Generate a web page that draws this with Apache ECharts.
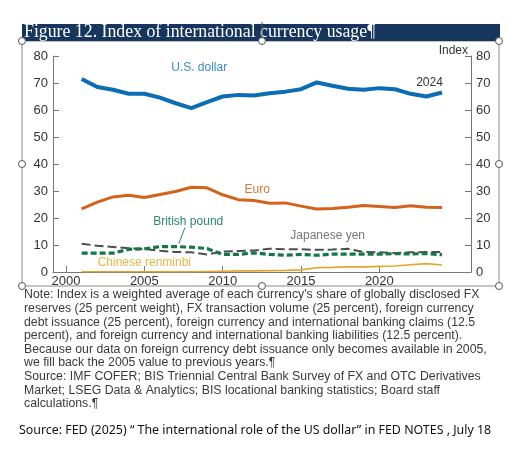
<!DOCTYPE html>
<html>
<head>
<meta charset="utf-8">
<script src="https://cdn.jsdelivr.net/npm/echarts@6/dist/echarts.min.js"></script>
<style>
  html, body { margin: 0; padding: 0; background: #fff; }
  #main { width: 529px; height: 459px; }
</style>
</head>
<body>
<div id="main"></div>
<script>
// yearly index values
var years = [2001, 2002, 2003, 2004, 2005, 2006, 2007, 2008, 2009, 2010, 2011, 2012,
             2013, 2014, 2015, 2016, 2017, 2018, 2019, 2020, 2021, 2022, 2023, 2024];
var usDollar = [71.5, 68.5, 67.5, 66.0, 66.0, 64.6, 62.5, 60.7, 62.9, 65.0, 65.6, 65.4,
                66.2, 66.8, 67.7, 70.2, 69.0, 67.9, 67.5, 68.1, 67.7, 66.0, 65.0, 66.5];
var euro = [23.4, 25.9, 27.8, 28.4, 27.6, 28.7, 29.8, 31.4, 31.2, 28.6, 26.8, 26.5,
            25.5, 25.6, 24.4, 23.3, 23.5, 24.0, 24.6, 24.3, 23.9, 24.5, 24.0, 23.9];
var yen = [10.5, 9.7, 9.3, 8.8, 8.5, 7.9, 7.4, 7.3, 6.5, 7.6, 7.8, 8.0,
           8.6, 8.4, 8.4, 8.2, 8.3, 8.6, 7.4, 7.3, 7.0, 7.3, 7.4, 7.4];
var pound = [7.0, 7.0, 7.0, 8.4, 8.6, 9.4, 9.4, 9.2, 8.7, 6.5, 6.5, 7.1,
             6.5, 6.2, 6.5, 6.2, 6.6, 6.6, 6.6, 6.6, 6.8, 6.7, 6.8, 6.4];
var renminbi = [0.1, 0.1, 0.1, 0.1, 0.1, 0.1, 0.1, 0.1, 0.2, 0.3, 0.4, 0.4,
                0.5, 0.6, 0.8, 1.6, 1.7, 1.9, 1.9, 2.1, 2.2, 2.7, 3.1, 2.6];
var yearTicks = [2000, 2005, 2010, 2015, 2020];

var noteLines = [
  "Note: Index is a weighted average of each currency's share of globally disclosed FX",
  "reserves (25 percent weight), FX transaction volume (25 percent), foreign currency",
  "debt issuance (25 percent), foreign currency and international banking claims (12.5",
  "percent), and foreign currency and international banking liabilities (12.5 percent).",
  "Because our data on foreign currency debt issuance only becomes available in 2005,",
  "we fill back the 2005 value to previous years.\u00b6",
  "Source: IMF COFER; BIS Triennial Central Bank Survey of FX and OTC Derivatives",
  "Market; LSEG Data & Analytics; BIS locational banking statistics; Board staff",
  "calculations.\u00b6"
];

function pairs(vals) {
  return years.map(function (y, i) { return [y, vals[i]]; });
}

var myChart = echarts.init(document.getElementById('main'));

var axisFont = { fontFamily: 'Liberation Sans', fontSize: 13, color: '#333' };

// frame of the selected picture with its handles
var frame = [
  { type: 'rect', shape: { x: 22, y: 41, width: 477, height: 245 },
    style: { fill: 'none', stroke: '#8a8a8a', lineWidth: 1 }, z: 1 },
  { type: 'rect', shape: { x: 22, y: 24, width: 478, height: 17 },
    style: { fill: '#17365d' }, z: 2 },
  { type: 'text', left: 24, top: 23,
    style: { text: 'Figure 12. Index of international currency usage\u00b6',
             fill: '#fff', font: '17.8px "Liberation Serif"' }, z: 3 }
];
[[22, 41], [262, 41], [499, 41], [22, 164], [499, 164], [22, 286], [262, 286], [499, 286]]
  .forEach(function (p) {
    frame.push({ type: 'circle', shape: { cx: p[0], cy: p[1], r: 3.5 },
      style: { fill: '#fff', stroke: '#555', lineWidth: 1 }, z: 4 });
  });
frame.push({ type: 'line', shape: { x1: 262, y1: 22, x2: 262, y2: 38 },
  style: { stroke: '#555', lineWidth: 1 }, z: 4 });

noteLines.forEach(function (t, i) {
  frame.push({ type: 'text', left: 24, top: 289 + i * 13.6,
    style: { text: t, fill: '#3a3a3a', font: '12.3px "Liberation Sans"' }, z: 3 });
});
frame.push({ type: 'text', left: 19, top: 424,
  style: { text: 'Source: FED (2025) \u201c The international role of the US dollar\u201d in FED NOTES , July 18',
           fill: '#111', font: '12.4px "Noto Sans"' }, z: 3 });

var option = {
  animation: false,
  backgroundColor: '#fff',
  grid: { left: 53, right: 58, top: 56, bottom: 187 },
  xAxis: {
    type: 'value', min: 1999.17, max: 2025.85,
    axisLine: { show: true, lineStyle: { color: '#777', width: 1 } },
    axisTick: { show: true, inside: true, length: 6, customValues: yearTicks,
                lineStyle: { color: '#777' } },
    axisLabel: Object.assign({ customValues: yearTicks, margin: 3,
                               formatter: function (v) { return String(v); } }, axisFont),
    splitLine: { show: false }
  },
  yAxis: [
    { type: 'value', min: 0, max: 80, interval: 10, position: 'left',
      axisLine: { show: true, lineStyle: { color: '#777' } },
      axisTick: { show: true, inside: true, length: 6, lineStyle: { color: '#777' } },
      axisLabel: Object.assign({ margin: 5 }, axisFont),
      splitLine: { show: false } },
    { type: 'value', min: 0, max: 80, interval: 10, position: 'right',
      name: 'Index', nameGap: -1,
      nameTextStyle: { fontFamily: 'Liberation Sans', fontSize: 12, color: '#333',
                       align: 'right', padding: [0, 3, 0, 0] },
      axisLine: { show: true, lineStyle: { color: '#777' } },
      axisTick: { show: true, inside: true, length: 6, lineStyle: { color: '#777' } },
      axisLabel: Object.assign({ margin: 5 }, axisFont),
      splitLine: { show: false } }
  ],
  series: [
    { name: 'Chinese renminbi', type: 'line', data: pairs(renminbi), showSymbol: false,
      lineStyle: { color: '#e6a52a', width: 1.6 }, z: 2 },
    { name: 'Japanese yen', type: 'line', data: pairs(yen), showSymbol: false,
      lineStyle: { color: '#4d4d4d', width: 2, type: [9, 4] }, z: 3 },
    { name: 'British pound', type: 'line', data: pairs(pound), showSymbol: false,
      lineStyle: { color: '#14774b', width: 3.2, type: [6, 3] }, z: 4 },
    { name: 'Euro', type: 'line', data: pairs(euro), showSymbol: false,
      lineStyle: { color: '#d4621a', width: 3 }, z: 5 },
    { name: 'U.S. dollar', type: 'line', data: pairs(usDollar), showSymbol: false,
      lineStyle: { color: '#0b6db3', width: 4 }, z: 6 }
  ],
  graphic: frame
};
myChart.setOption(option);

// series labels placed in data coordinates
var labels = [
  { text: 'U.S. dollar', at: [2008.5, 75.5], color: '#3b8dc4' },
  { text: '2024', at: [2023.2, 70], color: '#333' },
  { text: 'Euro', at: [2012.2, 30.5], color: '#d9772e' },
  { text: 'British pound', at: [2007.8, 18.6], color: '#2a8a68' },
  { text: 'Japanese yen', at: [2016.7, 13.6], color: '#777' },
  { text: 'Chinese renminbi', at: [2005, 3.3], color: '#e9b545' }
];
var extra = labels.map(function (l) {
  var p = myChart.convertToPixel({ gridIndex: 0 }, l.at);
  return { type: 'text', x: p[0], y: p[1],
    style: { text: l.text, fill: l.color, font: '12px "Liberation Sans"',
             align: 'center', verticalAlign: 'middle' }, z: 10 };
});
var a = myChart.convertToPixel({ gridIndex: 0 }, [2007.6, 16.5]);
var b = myChart.convertToPixel({ gridIndex: 0 }, [2007.2, 10.5]);
extra.push({ type: 'line', shape: { x1: a[0], y1: a[1], x2: b[0], y2: b[1] },
  style: { stroke: '#2a8a68', lineWidth: 1 }, z: 10 });
myChart.setOption({ graphic: frame.concat(extra) });
</script>
</body>
</html>
